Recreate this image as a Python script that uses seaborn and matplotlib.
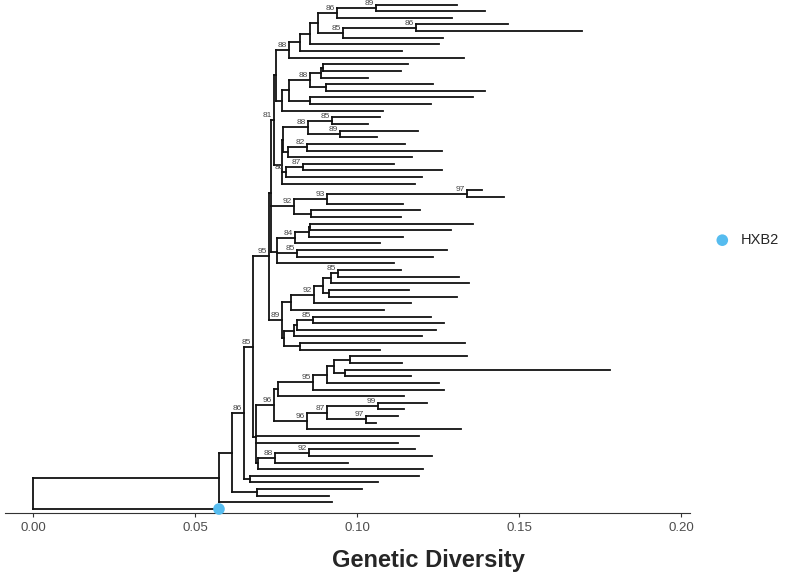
import matplotlib
matplotlib.use("Agg")
import matplotlib.pyplot as plt
import seaborn as sns
import numpy as np
import pandas as pd

# tip end positions (genetic distance), tips numbered 1..77 from top to bottom
tip_depth = [0.1309, 0.1395, 0.1293, 0.1466, 0.1694, 0.1265, 0.1253, 0.1139, 0.1330, 0.1157,
             0.1136, 0.1034, 0.1235, 0.1395, 0.1358, 0.1228, 0.1080, 0.1071, 0.1034, 0.1188,
             0.1062, 0.1148, 0.1262, 0.1170, 0.1114, 0.1262, 0.1201, 0.1179, 0.1386, 0.1454,
             0.1142, 0.1194, 0.1136, 0.1358, 0.1290, 0.1142, 0.1071, 0.1278, 0.1235, 0.1114,
             0.1136, 0.1315, 0.1346, 0.1160, 0.1309, 0.1167, 0.1083, 0.1228, 0.1269, 0.1244,
             0.1201, 0.1333, 0.1071, 0.1340, 0.1139, 0.1781, 0.1167, 0.1253, 0.1269, 0.1145,
             0.1216, 0.1145, 0.1127, 0.1059, 0.1321, 0.1191, 0.1127, 0.1179, 0.1231, 0.0972,
             0.1204, 0.1191, 0.1065, 0.1015, 0.0914, 0.0923, 0.0574]
ref_tip = 77
ref_name = "HXB2"

# clades: (node depth, bootstrap support, children); ints are tip numbers
c_86a = (0.0938, "86", [(0.1059, "89", [1, 2]), 3])
c_85a = (0.0957, "85", [(0.1182, "86", [4, 5]), 6])
c_88a = (0.0790, "88", [(0.0824, "", [(0.0855, "", [(0.0880, "", [c_86a, c_85a]), 7]), 8]), 9])
c_mid = (0.0769, "", [(0.0790, "", [(0.0855, "88", [(0.0889, "", [(0.0895, "", [10, 11]), 12]),
                                                    (0.0904, "", [13, 14])]),
                                    (0.0855, "", [15, 16])]), 17])
c_M = (0.0769, "", [(0.0772, "", [(0.0849, "88", [(0.0923, "85", [18, 19]), (0.0948, "89", [20, 21])]),
                                  (0.0787, "", [(0.0846, "82", [22, 23]), 24])]),
                    (0.0781, "86", [(0.0833, "87", [25, 26]), 27]), 28])
c_81 = (0.0744, "81", [(0.0750, "", [c_88a, c_mid]), c_M])
c_92a = (0.0806, "92", [(0.0907, "93", [(0.1340, "97", [29, 30]), 31]), (0.0858, "", [32, 33])])
c_U = (0.0753, "", [(0.0809, "84", [(0.0852, "", [(0.0855, "", [34, 35]), 36]), 37]),
                    (0.0815, "85", [38, 39]), 40])
c_89 = (0.0769, "89", [(0.0796, "", [(0.0867, "92", [(0.0895, "", [(0.0920, "", [(0.0941, "85", [41, 42]), 43]),
                                                                   (0.0914, "", [44, 45])]), 46]), 47]),
                       (0.0775, "", [(0.0806, "", [(0.0815, "", [(0.0864, "85", [48, 49]), 50]), 51]),
                                     (0.0824, "", [52, 53])])])
c_95 = (0.0728, "95", [(0.0735, "", [c_81, c_92a, c_U]), c_89])
c_96 = (0.0744, "96", [(0.0756, "", [(0.0864, "95", [(0.0907, "", [(0.0929, "", [(0.0978, "", [54, 55]),
                                                                                 (0.0963, "", [56, 57])]), 58]), 59]), 60]),
                       (0.0846, "96", [(0.0907, "87", [(0.1065, "99", [61, 62]), (0.1028, "97", [63, 64])]), 65])])
c_G = (0.0694, "", [(0.0747, "88", [(0.0852, "92", [68, 69]), 70]), 71])
c_86b = (0.0651, "86", [(0.0679, "85", [c_95, (0.0688, "", [c_96, 66, 67, c_G])]),
                        (0.0670, "", [72, 73])])
tree = (0.0, "", [(0.0574, "", [(0.0614, "", [c_86b, (0.0691, "", [74, 75])]), 76]), ref_tip])

n_tips = len(tip_depth)
xticks = [0.00, 0.05, 0.10, 0.15, 0.20]

segs = []
supports = []


def layout(node):
    if isinstance(node, int):
        return tip_depth[node - 1], n_tips + 1 - node
    depth, support, kids = node
    ys = []
    for k in kids:
        kx, ky = layout(k)
        segs.append([(depth, ky), (kx, ky)])
        ys.append(ky)
    segs.append([(depth, min(ys)), (depth, max(ys))])
    y = np.mean(ys)
    if support:
        supports.append((depth, y, support))
    return depth, y


layout(tree)

rows = []
for i, s in enumerate(segs):
    for (x, y) in s:
        rows.append({"seg": i, "x": x, "y": y})
df = pd.DataFrame(rows)

sns.set_style("white")
plt.rcParams["font.family"] = ["Liberation Sans", "DejaVu Sans"]

W, H = 790, 574
fig = plt.figure(figsize=(W / 100, H / 100), dpi=100)
ax = fig.add_axes([5 / W, 1 - 513 / H, 685 / W, 513 / H])

sns.lineplot(data=df, x="x", y="y", units="seg", estimator=None, sort=False,
             color="#111111", linewidth=1.3, ax=ax, legend=False)
for line in ax.lines:
    line.set_solid_capstyle("projecting")

for x, y, s in supports:
    ax.text(x - 0.0007, y + 0.15, s, ha="right", va="bottom", fontsize=6, color="#444444")

sns.scatterplot(x=[tip_depth[ref_tip - 1]], y=[n_tips + 1 - ref_tip], color="#56BCEF", s=70,
                edgecolor="none", label=ref_name, ax=ax, zorder=5, clip_on=False)

ax.set_xlim((5 - 33) / 3240, (690 - 33) / 3240)
ax.set_ylim(0.4, 77.68)
ax.set_xticks(xticks)
ax.set_xticklabels(["%.2f" % t for t in xticks])
ax.set_yticks([])
ax.set_xlabel("")
ax.set_ylabel("")
for side in ["top", "left", "right"]:
    ax.spines[side].set_visible(False)
ax.spines["bottom"].set_color("#333333")
ax.spines["bottom"].set_linewidth(0.8)
ax.tick_params(axis="x", bottom=True, length=3, width=0.8, color="#333333",
               labelsize=9.5, labelcolor="#4d4d4d", pad=3.5)

fig.text(428 / W, 1 - 560 / H, "Genetic Diversity", ha="center", va="center",
         fontsize=17, fontweight="bold")

ax.legend(loc="center left", bbox_to_anchor=(715 / W, 1 - 240 / H), bbox_transform=fig.transFigure,
          frameon=False, fontsize=10.5, borderpad=0, borderaxespad=0, handlelength=1,
          handletextpad=0.8, markerscale=1.0)

fig.savefig("out.png", dpi=100)
